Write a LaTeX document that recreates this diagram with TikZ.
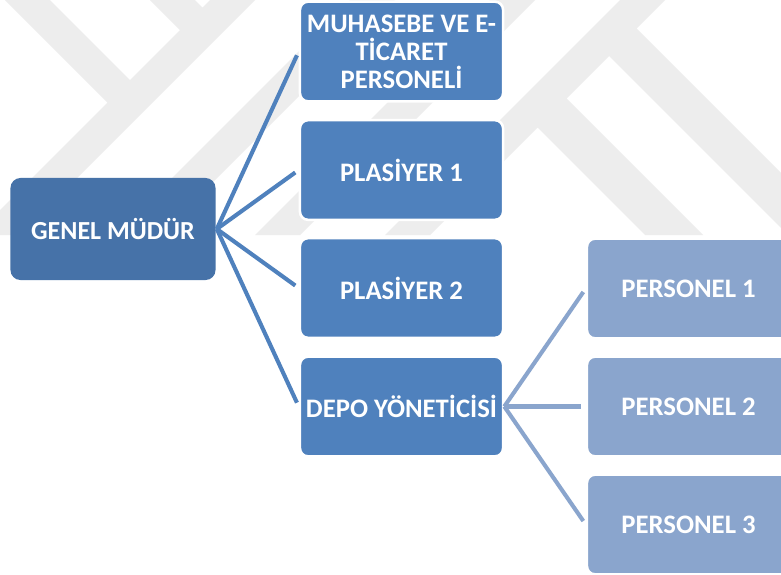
\documentclass[tikz,border=0pt]{standalone}
\usepackage{fontspec}
\setmainfont{Carlito}
\usepackage{tikz}
\usetikzlibrary{positioning}
\definecolor{darkblue}{RGB}{70,114,168}
\definecolor{midblue}{RGB}{79,129,189}
\definecolor{paleblue}{RGB}{138,165,205}
\definecolor{wmgray}{RGB}{237,237,237}
\tikzset{
    bluebox/.style={
        rounded corners=0.2cm,
        fill=midblue,
        draw=white,
        line width=1.8pt,
        minimum width=5.075cm,
        minimum height=2.49cm,
        inner sep=0pt,
        text=white,
        align=center,
        font=\fontsize{19}{19.8}\selectfont\bfseries
    },
    % GENEL MUDUR kutusu
    darkbox/.style={
        bluebox,
        fill=darkblue,
        draw=none,
        minimum width=5.125cm,
        minimum height=2.55cm,
        rounded corners=0.25cm,
        font=\fontsize{18.5}{20}\selectfont\bfseries
    },
    palebox/.style={
        bluebox,
        fill=paleblue
    },
    blueline/.style={
        line width=2.9pt,
        midblue,
        shorten >=3pt
    },
    paleline/.style={
        line width=2.9pt,
        paleblue,
        shorten >=3pt
    }
}

\begin{document}
\begin{tikzpicture}[x=0.025cm,y=-0.025cm]
	\useasboundingbox (0,0) rectangle (781,574);
	\clip (0,0) rectangle (781,574);
	\fill[white] (0,0) rectangle (781,574);
	
	% filigran
	\fill[wmgray]
	(5,0) -- (50,0) -- (130,80) -- (107.5,102.5) -- cycle
	(210,0) -- (255,0) -- (20,235) -- (-25,235) -- cycle
	(150,0) -- (195,0) -- (202.5,7.5) -- (180,30) -- cycle
	(350,0) -- (395,0) -- (160,235) -- (115,235) -- cycle
	(490,0) -- (535,0) -- (300,235) -- (255,235) -- cycle
	(620,0) -- (665,0) -- (430,235) -- (385,235) -- cycle
	(525,115) -- (554,86) -- (703,235) -- (645,235) -- cycle
	(596.5,43.5) -- (624,16) -- (781,173) -- (781,228) -- cycle;
	
	% kutular
	\node[darkbox] (genel) at (113,229) {GENEL MÜDÜR};
	\node[bluebox] (muhasebe) at (401.5,51.5) {MUHASEBE VE E-\\TİCARET\\PERSONELİ};
	\node[bluebox] (plasiyer1) at (401.5,170) {PLASİYER 1};
	\node[bluebox] (plasiyer2) at (401.5,288) {PLASİYER 2};
	\node[bluebox] (depo) at (401.5,406.5) {DEPO YÖNETİCİSİ};
	\node[palebox] (personel1) at (688.5,288.5) {PERSONEL 1};
	\node[palebox] (personel2) at (688.5,406.5) {PERSONEL 2};
	\node[palebox] (personel3) at (688.5,524.5) {PERSONEL 3};
	
	% baglantilar
	\draw[blueline] (genel.east) -- (muhasebe.west);
	\draw[blueline] (genel.east) -- (plasiyer1.west);
	\draw[blueline] (genel.east) -- (plasiyer2.west);
	\draw[blueline] (genel.east) -- (depo.west);
	
	\draw[paleline] (depo.east) -- (personel1.west);
	\draw[paleline] (depo.east) -- (personel2.west);
	\draw[paleline] (depo.east) -- (personel3.west);
\end{tikzpicture}
\end{document}
